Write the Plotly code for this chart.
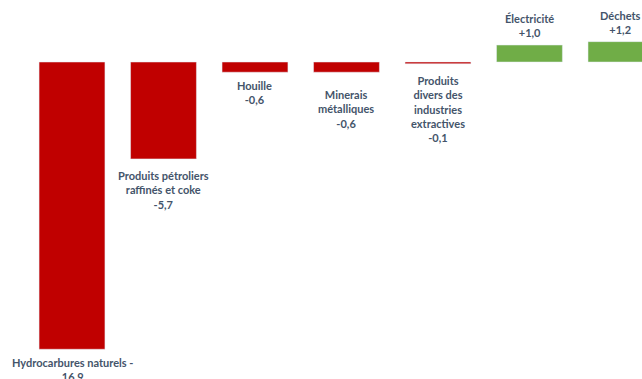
import plotly.graph_objects as go

categories = [
    "Hydrocarbures naturels -<br>16,9",
    "Produits pétroliers<br>raffinés et coke<br>-5,7",
    "Houille<br>-0,6",
    "Minerais<br>métalliques<br>-0,6",
    "Produits<br>divers des<br>industries<br>extractives<br>-0,1",
    "Électricité<br>+1,0",
    "Déchets<br>+1,2",
]
values = [-16.9, -5.7, -0.6, -0.6, -0.1, 1.0, 1.2]

# style only: gap (px) between bar end and its label
label_gap = [5, 8, 5, 14, 8, 4, 4]

colors = ["#C00000" if v < 0 else "#70AD47" for v in values]
xs = list(range(len(values)))

fig = go.Figure(go.Bar(x=xs, y=values, marker_color=colors, width=0.72,
                       hoverinfo="skip"))

for x, v, t, g in zip(xs, values, categories, label_gap):
    fig.add_annotation(x=x, y=v, xref="x", yref="y", text=t, showarrow=False,
                       yanchor="top" if v < 0 else "bottom",
                       yshift=-g if v < 0 else g,
                       font=dict(family="Lato", size=11, color="#44546A",
                                 weight="bold"),
                       align="center")

fig.update_layout(
    width=642, height=379, margin=dict(l=0, r=0, t=0, b=0),
    paper_bgcolor="white", plot_bgcolor="white", showlegend=False,
    xaxis=dict(range=[-0.787, 6.230], visible=False, fixedrange=True),
    yaxis=dict(range=[-18.65, 3.65], visible=False, fixedrange=True),
)

fig.write_html("out.html")
